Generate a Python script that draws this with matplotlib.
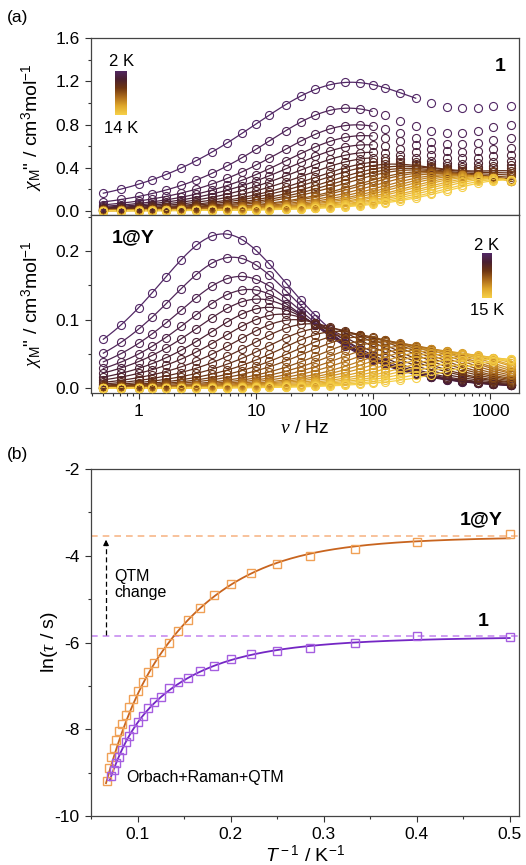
import numpy as np
import matplotlib
matplotlib.use("Agg")
import matplotlib.pyplot as plt
import matplotlib.ticker as mticker
from matplotlib.colors import LinearSegmentedColormap

plt.rcParams["font.family"] = ["Liberation Sans", "DejaVu Sans"]
plt.rcParams["mathtext.fontset"] = "custom"
plt.rcParams["mathtext.rm"] = "Liberation Sans"
plt.rcParams["mathtext.it"] = "Liberation Serif:italic"
plt.rcParams["mathtext.sf"] = "Liberation Sans:italic"
plt.rcParams["mathtext.bf"] = "Liberation Sans:bold"

# ---- data ----
# measurement frequencies (Hz)
FREQ = [0.5, 0.71, 1.0, 1.3, 1.7, 2.3, 3.1, 4.2, 5.7, 7.6, 10, 13, 18, 24,
        32, 43, 58, 77, 100, 126, 170, 231, 314, 424, 575, 787, 1057, 1500]

# panel (b): ln(tau) vs T (compound 1, 2-14 K)
T_1 = [2.0, 2.5, 3.0, 3.5, 4.0, 4.5, 5.0, 5.5, 6.0, 6.5, 7.0, 7.5, 8.0,
       8.5, 9.0, 9.5, 10.0, 10.5, 11.0, 11.5, 12.0, 12.5, 13.0, 13.5, 14.0]
LNTAU_1 = [-5.88, -5.85, -6.00, -6.13, -6.19, -6.27, -6.39, -6.55, -6.65,
           -6.81, -6.92, -7.04, -7.25, -7.36, -7.52, -7.69, -7.84, -7.99,
           -8.15, -8.29, -8.47, -8.63, -8.78, -8.94, -9.07]

# panel (b): ln(tau) vs T (1@Y, 2-15 K)
T_Y = [2.0, 2.5, 3.0, 3.5, 4.0, 4.5, 5.0, 5.5, 6.0, 6.5, 7.0, 7.5, 8.0,
       8.5, 9.0, 9.5, 10.0, 10.5, 11.0, 11.5, 12.0, 12.5, 13.0, 13.5, 14.0,
       14.5, 15.0]
LNTAU_Y = [-3.50, -3.68, -3.84, -4.00, -4.19, -4.40, -4.64, -4.90, -5.20,
           -5.49, -5.74, -6.00, -6.23, -6.47, -6.69, -6.91, -7.12, -7.31,
           -7.49, -7.67, -7.88, -8.05, -8.25, -8.44, -8.64, -8.90, -9.19]

# panel (a) top: chi'' peak height, distribution width, value at 1500 Hz
PEAK_1 = [1.19, 0.95, 0.795, 0.695, 0.61, 0.54, 0.49, 0.455, 0.43, 0.41,
          0.39, 0.375, 0.36, 0.35, 0.34, 0.33, 0.325, 0.32, 0.315, 0.31,
          0.305, 0.30, 0.295, 0.29, 0.285]
ALPHA_1 = [0.36, 0.27, 0.25, 0.24, 0.23, 0.22, 0.21, 0.20, 0.19, 0.18,
           0.17, 0.16, 0.15, 0.15, 0.14, 0.14, 0.13, 0.13, 0.12, 0.12,
           0.11, 0.11, 0.10, 0.10, 0.10]
CHI1500_1 = [0.975, 0.80, 0.675, 0.585, 0.52, 0.465, 0.425, 0.395, 0.37,
             0.35, 0.33, 0.31, 0.295, 0.285, 0.28, 0.28, 0.28, 0.28, 0.28,
             0.28, 0.28, 0.28, 0.28, 0.28, 0.28]
FMAX_1 = [231, 100, 100, 100, 100, 100, 100, 100, 1500, 1500, 1500, 1500,
          1500, 1500, 1500, 1500, 1500, 1500, 1500, 1500, 1500, 1500, 1500,
          1500, 1500]

# panel (a) bottom: chi'' peak height and width for 1@Y
PEAK_Y = [0.225, 0.191, 0.163, 0.144, 0.130, 0.118, 0.108, 0.100, 0.094,
          0.088, 0.083, 0.079, 0.075, 0.071, 0.068, 0.065, 0.062, 0.059,
          0.057, 0.055, 0.053, 0.051, 0.049, 0.047, 0.045, 0.043, 0.042]
ALPHA_Y = [0.16, 0.15, 0.15, 0.14, 0.14, 0.13, 0.13, 0.12, 0.12, 0.12,
           0.11, 0.11, 0.11, 0.10, 0.10, 0.10, 0.10, 0.09, 0.09, 0.09,
           0.09, 0.08, 0.08, 0.08, 0.08, 0.08, 0.08]

# Orbach + Raman + QTM fit parameters (ln tau_QTM, C, n, Ueff/K, 1/tau0)
FIT_1 = (-5.85, 2.07, 3.0, 106.0, 5.5e6)
FIT_Y = (-3.545, 0.1155, 4.0, 100.0, 3.08e6)
F_FAST = 2000.0   # second (fast) process of compound 1

CMAP = LinearSegmentedColormap.from_list(
    "temp", ["#522866", "#4a2030", "#6e3612", "#ad6c1c", "#e0a82c", "#f6d048"])


def debye(f, lntau, dchi, alpha):
    x = 2 * np.pi * np.asarray(f, float) * np.exp(lntau)
    a = alpha * np.pi / 2
    y = x ** (1 - alpha)
    return dchi * y * np.cos(a) / (1 + 2 * y * np.sin(a) + y ** 2)


def peak_factor(alpha):
    a = alpha * np.pi / 2
    return np.cos(a) / (2 * (1 + np.sin(a)))


def fast(f):
    x = np.asarray(f, float) / F_FAST
    return x / (1 + x ** 2)


def relax(T, p):
    lnq, C, n, U, r0 = p
    return -np.log(np.exp(-lnq) + C * T ** n + r0 * np.exp(-U / T))


fig = plt.figure(figsize=(5.26, 8.65), dpi=100)
ax1 = fig.add_axes([0.1724, 0.7514, 0.8143, 0.2043])
ax2 = fig.add_axes([0.1724, 0.5460, 0.8143, 0.2054])
ax3 = fig.add_axes([0.1724, 0.0566, 0.8143, 0.4012])

freq = np.array(FREQ)
fl = np.logspace(np.log10(0.5), np.log10(1500), 300)

# ---- (a) top: compound 1 ----
n1 = len(T_1)
for i in range(n1):
    c = CMAP(i / (n1 - 1))
    lt, al = LNTAU_1[i], ALPHA_1[i]
    fpk = 1 / (2 * np.pi * np.exp(lt))
    amp = 0.0
    for _ in range(6):
        dchi = (PEAK_1[i] - amp * fast(fpk)) / peak_factor(al)
        amp = max(0.0, (CHI1500_1[i] - debye(1500, lt, dchi, al)) / fast(1500))
    pts = debye(freq, lt, dchi, al) + amp * fast(freq)
    ff = fl[fl <= FMAX_1[i] * 1.001]
    line = debye(ff, lt, dchi, al) + amp * fast(ff)
    ax1.plot(ff, line, color=c, lw=0.9, zorder=2)
    ax1.plot(freq, pts, "o", mfc="none", mec=c, ms=5.8, mew=0.8, zorder=3)

# ---- (a) bottom: 1@Y ----
ny = len(T_Y)
for i in range(ny):
    c = CMAP(i / (ny - 1))
    dchi = PEAK_Y[i] / peak_factor(ALPHA_Y[i])
    ax2.plot(fl, debye(fl, LNTAU_Y[i], dchi, ALPHA_Y[i]), color=c, lw=0.9, zorder=2)
    ax2.plot(freq, debye(freq, LNTAU_Y[i], dchi, ALPHA_Y[i]), "o", mfc="none",
             mec=c, ms=5.8, mew=0.8, zorder=3)

for ax in (ax1, ax2):
    ax.set_xscale("log")
    ax.set_xlim(0.39, 1750)
    ax.tick_params(which="both", direction="out", labelsize=12.5, width=0.8,
                   color="#333333")
    ax.tick_params(which="major", length=4.5)
    ax.tick_params(which="minor", length=2.5)
    for s in ax.spines.values():
        s.set_color("#444444")
        s.set_linewidth(0.9)
    ax.set_ylabel(r'$\chi_{\mathrm{M}}$" / cm$^{3}$mol$^{-1}$', fontsize=14)
    ax.yaxis.set_label_coords(-0.107, 0.5)

ax1.set_ylim(-0.04, 1.6)
ax1.yaxis.set_major_locator(mticker.MultipleLocator(0.4))
ax1.yaxis.set_minor_locator(mticker.MultipleLocator(0.2))
ax1.yaxis.set_major_formatter(mticker.FormatStrFormatter("%.1f"))
ax1.tick_params(axis="x", which="both", labelbottom=False)

ax2.set_ylim(-0.0065, 0.2525)
ax2.yaxis.set_major_locator(mticker.MultipleLocator(0.1))
ax2.yaxis.set_minor_locator(mticker.MultipleLocator(0.05))
ax2.yaxis.set_major_formatter(mticker.FormatStrFormatter("%.1f"))
ax2.xaxis.set_major_formatter(mticker.FuncFormatter(lambda v, _: f"{v:g}"))
ax2.set_xlabel(r"$\nu$ / Hz", fontsize=14, labelpad=1)

ax1.text(0.955, 0.84, "1", transform=ax1.transAxes, fontsize=14,
         fontweight="bold", ha="center", va="center")
ax2.text(0.05, 0.87, "1@Y", transform=ax2.transAxes, fontsize=14,
         fontweight="bold", ha="left", va="center")

grad = np.linspace(0, 1, 200)[:, None]
cb1 = ax1.inset_axes([0.057, 0.566, 0.028, 0.249])
cb1.imshow(grad, cmap=CMAP, aspect="auto")
cb1.axis("off")
ax1.text(0.071, 0.866, "2 K", transform=ax1.transAxes, fontsize=12,
         ha="center", va="center")
ax1.text(0.071, 0.492, "14 K", transform=ax1.transAxes, fontsize=12,
         ha="center", va="center")

cb2 = ax2.inset_axes([0.913, 0.531, 0.023, 0.253])
cb2.imshow(grad, cmap=CMAP, aspect="auto")
cb2.axis("off")
ax2.text(0.925, 0.831, "2 K", transform=ax2.transAxes, fontsize=12,
         ha="center", va="center")
ax2.text(0.925, 0.465, "15 K", transform=ax2.transAxes, fontsize=12,
         ha="center", va="center")

fig.text(0.013, 0.980, "(a)", fontsize=12.5, ha="left", va="center")
fig.text(0.013, 0.474, "(b)", fontsize=12.5, ha="left", va="center")

# ---- (b) ln(tau) vs 1/T ----
OR_SQ, OR_LN, OR_DASH = "#f0a055", "#c8641e", "#f7b88a"
PU_SQ, PU_LN, PU_DASH = "#a55ee0", "#7426c4", "#c78cf0"

ax3.axhline(FIT_Y[0], color=OR_DASH, ls="--", lw=1.2, dashes=(4, 3), zorder=1)
ax3.axhline(FIT_1[0], color=PU_DASH, ls="--", lw=1.2, dashes=(4, 3), zorder=1)

invT_Y = 1 / np.array(T_Y)
invT_1 = 1 / np.array(T_1)
tl = np.linspace(0.066, 0.5, 300)
ax3.plot(tl, relax(1 / tl, FIT_Y), color=OR_LN, lw=1.3, zorder=2)
tl1 = np.linspace(0.0700, 0.5, 300)
ax3.plot(tl1, relax(1 / tl1, FIT_1), color=PU_LN, lw=1.3, zorder=2)
ax3.plot(invT_Y, LNTAU_Y, "s", mfc="none", mec=OR_SQ, ms=5.5, mew=1.0, zorder=3)
ax3.plot(invT_1, LNTAU_1, "s", mfc="none", mec=PU_SQ, ms=5.5, mew=1.0, zorder=3)

# QTM change arrow
ax3.plot([0.066, 0.066], [FIT_1[0] + 0.03, FIT_Y[0] - 0.2], color="black",
         lw=0.9, ls=(0, (4, 2.5)), zorder=4)
ax3.annotate("", xy=(0.066, FIT_Y[0] - 0.02), xytext=(0.066, FIT_Y[0] - 0.25),
             arrowprops=dict(arrowstyle="-|>", color="black", lw=0.9,
                             mutation_scale=8), zorder=4)
ax3.text(0.075, -4.66, "QTM\nchange", fontsize=11.5, ha="left", va="center",
         linespacing=1.1)
ax3.text(0.088, -9.12, "Orbach+Raman+QTM", fontsize=11.5, ha="left",
         va="center")
ax3.text(0.469, -3.18, "1@Y", fontsize=14, fontweight="bold", ha="center",
         va="center")
ax3.text(0.471, -5.52, "1", fontsize=14, fontweight="bold", ha="center",
         va="center")

ax3.set_xlim(0.0495, 0.51)
ax3.set_ylim(-10, -2)
ax3.xaxis.set_major_locator(mticker.MultipleLocator(0.1))
ax3.xaxis.set_minor_locator(mticker.MultipleLocator(0.05))
ax3.yaxis.set_major_locator(mticker.MultipleLocator(2))
ax3.yaxis.set_minor_locator(mticker.MultipleLocator(1))
ax3.xaxis.set_major_formatter(mticker.FuncFormatter(lambda v, _: f"{v:.1f}"))
ax3.yaxis.set_major_formatter(mticker.FuncFormatter(lambda v, _: f"{v:.0f}"))
ax3.tick_params(which="both", direction="out", labelsize=12.5, width=0.8,
                color="#333333")
ax3.tick_params(which="major", length=4.5)
ax3.tick_params(which="minor", length=2.5)
for s in ax3.spines.values():
    s.set_color("#444444")
    s.set_linewidth(0.9)
ax3.set_xlabel(r"$\mathsf{T}^{\,-1}$ / K$^{-1}$", fontsize=14, labelpad=2)
ax3.set_ylabel(r"ln($\tau$ / s)", fontsize=14)
ax3.yaxis.set_label_coords(-0.072, 0.5)

plt.savefig("out.png", dpi=100)
